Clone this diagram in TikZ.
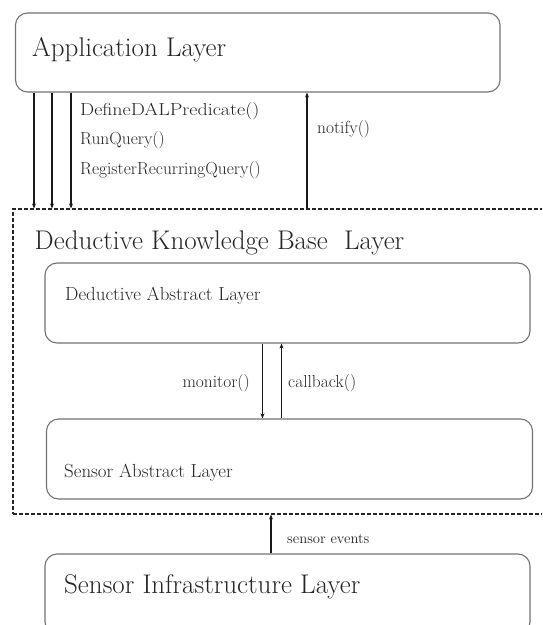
\documentclass[tikz,border=0pt]{standalone}
\usetikzlibrary{arrows.meta}
\begin{document}
\begin{tikzpicture}[x=1pt,y=-1pt,
  layerbox/.style={draw=black!55, line width=1.1pt, rounded corners=12pt, inner sep=0pt},
  kbframe/.style={draw=black!85, line width=1.1pt, dash pattern=on 4pt off 2pt, inner sep=0pt},
  bigtext/.style={anchor=base west, inner sep=0pt, font=\fontsize{27}{31}\selectfont, text=black!85},
  midtext/.style={anchor=base west, inner sep=0pt, font=\fontsize{18.9}{22}\selectfont, text=black!85},
  calltext/.style={anchor=base west, inner sep=0pt, font=\fontsize{17.4}{20}\selectfont, text=black!85},
  smalltext/.style={anchor=base west, inner sep=0pt, font=\fontsize{14.7}{17}\selectfont, text=black!85},
  arr/.style={draw=black!90, line width=1.3pt, -{Stealth[length=5pt,width=4pt]}}]
\useasboundingbox (0,0) rectangle (542,625);
\clip (0,0) rectangle (542,625);
\fill[white] (0,0) rectangle (542,625);

% layer boxes
\node[layerbox, minimum width=484.5pt, minimum height=79pt] (app) at (257.75,52.5) {};
\node[kbframe, minimum width=557pt, minimum height=305pt] (kb) at (291.5,361.5) {};
\node[layerbox, minimum width=485pt, minimum height=80pt] (dal) at (287.5,303) {};
\node[layerbox, minimum width=486pt, minimum height=80pt] (sal) at (289.5,459) {};
\node[layerbox, minimum width=485pt, minimum height=80pt] (sil) at (287.5,594) {};

% box titles
\node[bigtext] (apptxt) at (32,56) {Application Layer};
\node[bigtext] (kbtxt) at (34.5,249) {Deductive Knowledge Base\ \ Layer};
\node[midtext] (daltxt) at (65,300) {Deductive Abstract Layer};
\node[midtext] (saltxt) at (64,477) {Sensor Abstract Layer};
\node[bigtext] (siltxt) at (64,593) {Sensor Infrastructure Layer};

% x positions of the connectors
\coordinate (c1) at (34,0);
\coordinate (c2) at (52,0);
\coordinate (c3) at (71,0);
\coordinate (cn) at (307,0);
\coordinate (cm) at (262.5,0);
\coordinate (cc) at (281.5,0);
\coordinate (cs) at (271,0);

% application layer <-> knowledge base
\draw[arr] (app.south -| c1) -- (kb.north -| c1);
\draw[arr] (app.south -| c2) -- (kb.north -| c2);
\draw[arr] (app.south -| c3) -- (kb.north -| c3);
\draw[arr] (kb.north -| cn) -- (app.south -| cn);

\node[calltext] (define) at (80,115) {\scalebox{1.15}[1]{DefineDALPredicate()}};
\node[calltext] (runq) at (80,144) {RunQuery()};
\node[calltext] (regq) at (80,174) {RegisterRecurringQuery()};
\node[calltext] (notify) at (317,133) {notify()};

% abstract layers
\draw[arr] (dal.south -| cm) -- (sal.north -| cm);
\draw[arr] (sal.north -| cc) -- (dal.south -| cc);
\node[calltext, anchor=base east] (monitor) at (250,387) {monitor()};
\node[calltext] (callback) at (288,387) {callback()};

% sensor events
\draw[arr] (sil.north -| cs) -- (kb.south -| cs);
\node[smalltext] (events) at (287,543) {sensor events};
\end{tikzpicture}
\end{document}
